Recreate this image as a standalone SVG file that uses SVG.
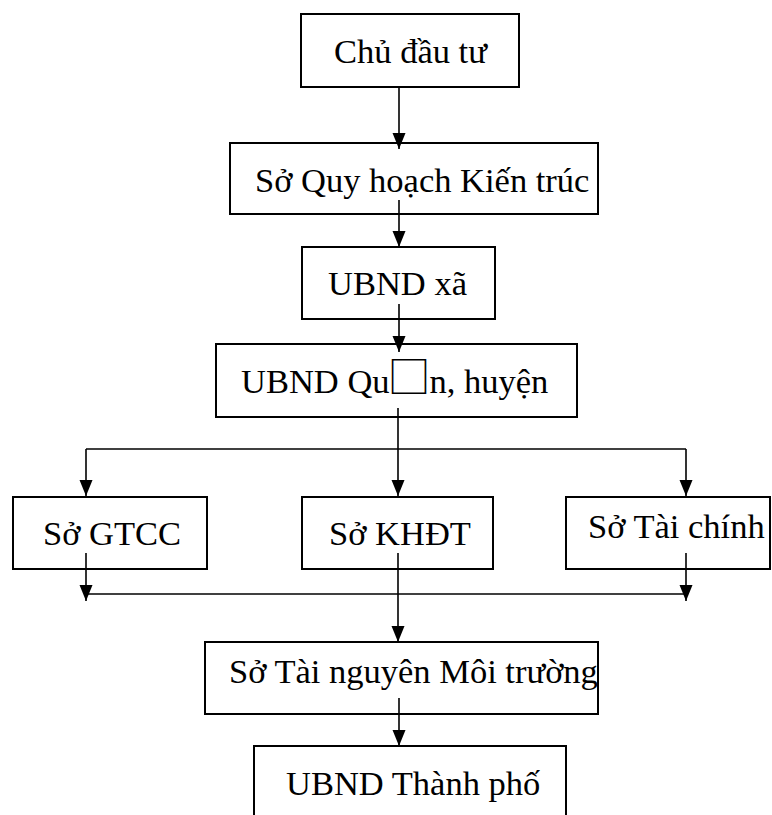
<svg xmlns="http://www.w3.org/2000/svg" width="772" height="815" viewBox="0 0 772 815">
<defs>
<style>
.box{fill:#fff;stroke:#000;stroke-width:2}
.t{font-family:"Liberation Serif","Times New Roman",serif;font-size:34.5px;fill:#000}
.c{fill:none;stroke:#000;stroke-width:1.6}
.a{marker-end:url(#ah)}
</style>
<marker id="ah" markerUnits="userSpaceOnUse" markerWidth="14" markerHeight="17" refX="6.5" refY="16" orient="0" viewBox="0 0 13 17">
<path d="M0,0 L13,0 L6.5,16 Z" fill="#000"/>
</marker>
</defs>
<rect width="772" height="815" fill="#fff"/>
<g id="n1"><rect class="box" x="301" y="14" width="218" height="73"/><text class="t" x="334" y="63">Chủ đầu tư</text></g>
<g id="n2"><rect class="box" x="230" y="143" width="368" height="71"/><text class="t" x="255" y="192">Sở Quy hoạch Kiến trúc</text></g>
<g id="n3"><rect class="box" x="302" y="247" width="193" height="72"/><text class="t" x="328" y="295">UBND xã</text></g>
<g id="n4"><rect class="box" x="216" y="344" width="361" height="73"/><text class="t" x="241" y="393">UBND Qu<tspan dx="-2" style="font-family:'Noto Sans CJK SC',sans-serif;font-size:43px">□</tspan><tspan dx="-1">n, huyện</tspan></text></g>
<g id="n5"><rect class="box" x="13" y="497" width="194" height="72"/><text class="t" x="43" y="545">Sở GTCC</text></g>
<g id="n6"><rect class="box" x="302" y="497" width="191" height="72"/><text class="t" x="329" y="545">Sở KHĐT</text></g>
<g id="n7"><rect class="box" x="566" y="497" width="204" height="72"/><text class="t" x="588" y="538">Sở Tài chính</text></g>
<g id="n8"><rect class="box" x="205" y="642" width="393" height="72"/><text class="t" x="229" y="683">Sở Tài nguyên Môi trường</text></g>
<g id="n9"><rect class="box" x="254" y="746" width="312" height="100"/><text class="t" x="286" y="795">UBND Thành phố</text></g>
<g id="connectors">
<path class="c a" d="M399,87 V149"/>
<path class="c a" d="M399,200 V247"/>
<path class="c a" d="M399,304 V352"/>
<path class="c a" d="M398,408 V496"/>
<path class="c" d="M86,449 H686"/>
<path class="c a" d="M86,449 V496"/>
<path class="c a" d="M686,449 V496"/>
<path class="c a" d="M86,553 V601"/>
<path class="c a" d="M686,553 V601"/>
<path class="c" d="M86,594 H686"/>
<path class="c a" d="M398,553 V642"/>
<path class="c a" d="M399,698 V746"/>
</g>
</svg>
